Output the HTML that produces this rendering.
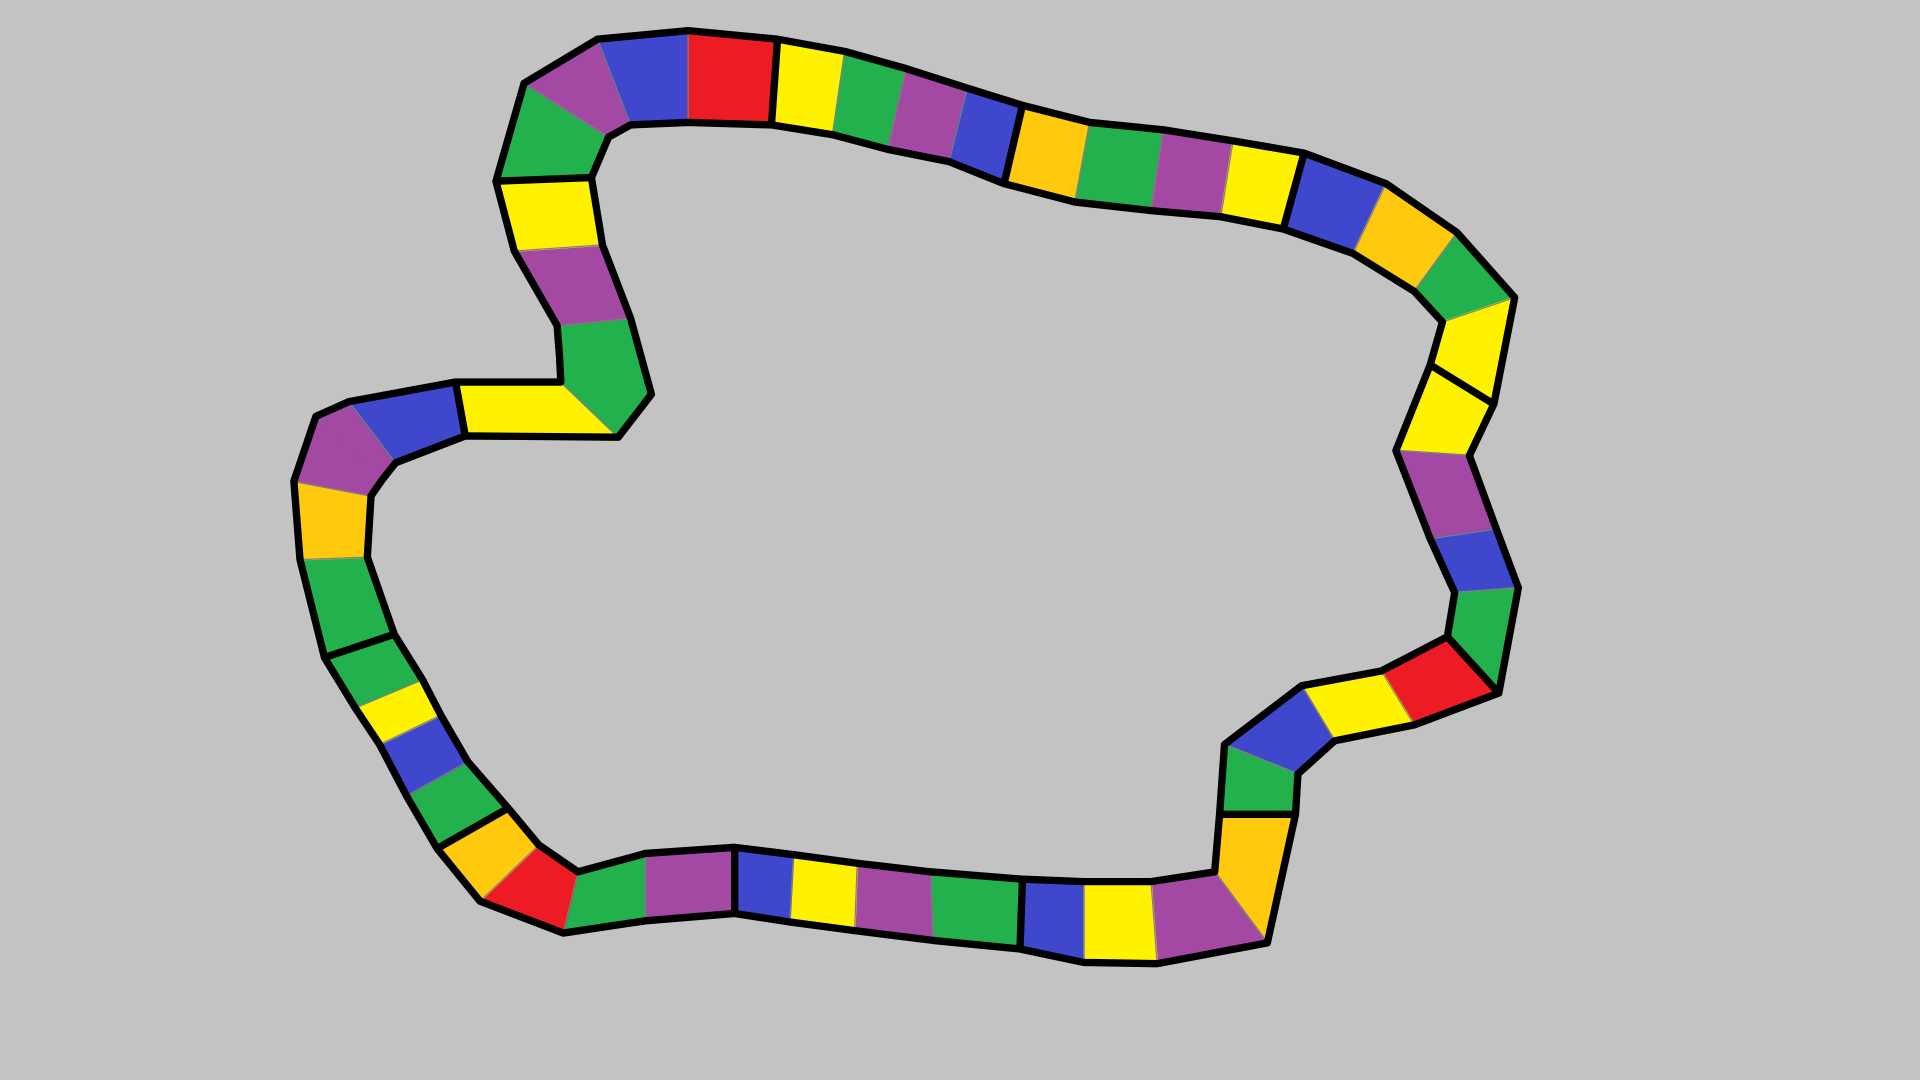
<!DOCTYPE html>
<html><head><meta charset="utf-8"><style>
html,body{margin:0;padding:0;background:#c3c3c3;overflow:hidden}
svg{display:block}
</style></head><body>
<svg id="board" width="1920" height="1080" viewBox="0 0 1568 882" preserveAspectRatio="none" xmlns="http://www.w3.org/2000/svg">
<rect width="1568" height="882" fill="#c3c3c3"/>
<g id="spaces"></g><g id="rungs"></g><g id="edges"></g>
</svg>
<script>
// Rungs: [outerX, outerY, innerX, innerY]
const rungs = [
[405,148,483,145],[428,68,497,112],[488,32,515,102],[562,25,562,100],[635,32,630,102],
[690,42,680,110],[740,56,725,122],[790,72,775,132],[835,86,820,150],[890,100,878,165],
[950,106,940,172],[1007,115,997,177],[1065,125,1048,187],[1132,150,1105,207],[1190,190,1155,238],
[1237,243,1178,263],[1220,330,1168,298],[1200,372,1140,368],[1222,432,1168,440],[1240,480,1188,484],
[1224,566,1182,520],[1155,592,1128,548],[1090,605,1063,560],[1060,632,1000,608],[1058,665,996,665],
[1035,770,992,712],[945,787,940,720],[885,786,885,720],[833,775,835,718],[762,768,760,712],
[698,760,700,705],[645,753,648,698],[600,746,600,692],[527,752,527,697],[460,762,472,712],
[392,736,440,690],[357,693,415,660],[332,650,382,622],[310,608,360,584],[290,578,345,555],
[265,537,322,518],[245,457,300,455],[240,393,303,405],[258,340,312,392],[285,328,323,378],
[372,312,380,356],[458,312,505,357],[457,292,532,322],[455,266,515,260],[420,205,492,200]
];
const colors = ["G","P","B","R","Y","G","P","B","O","G","P","Y","B","O","G","Y","Y","P","B","G",
"R","Y","B","G","O","P","Y","B","G","P","Y","B","P","G","R","O","G","B","Y","G",
"G","O","P","P","B","Y","G","G","P","Y"];
const blackRungs = [0,4,8,12,16,20,24,28,32,36,40,45];
const hiddenRungs = [43,47];
const palette = {G:"#22b14c",Y:"#fff200",P:"#a349a4",B:"#3f48cc",R:"#ed1c24",O:"#ffc90e"};
const NS="http://www.w3.org/2000/svg";
const sp=document.getElementById('spaces'), rg=document.getElementById('rungs'), ed=document.getElementById('edges');
const n=rungs.length;
for(let i=0;i<n;i++){
  const a=rungs[i], b=rungs[(i+1)%n];
  const p=document.createElementNS(NS,'polygon');
  p.setAttribute('points',`${a[0]},${a[1]} ${b[0]},${b[1]} ${b[2]},${b[3]} ${a[2]},${a[3]}`);
  p.setAttribute('fill',palette[colors[i]]);
  p.setAttribute('stroke',palette[colors[i]]);
  p.setAttribute('stroke-width','1.5');
  
  
  sp.appendChild(p);
}
for(let i=0;i<n;i++){
  if(hiddenRungs.includes(i)) continue;
  const r=rungs[i];
  const l=document.createElementNS(NS,'line');
  l.setAttribute('x1',r[0]);l.setAttribute('y1',r[1]);l.setAttribute('x2',r[2]);l.setAttribute('y2',r[3]);
  const blk=blackRungs.includes(i);
  l.setAttribute('stroke',blk?'#000':'#7f7f7f');
  l.setAttribute('stroke-width',blk?6:1);
  
  
  rg.appendChild(l);
}
function edge(ix,iy,name){
  const pl=document.createElementNS(NS,'polygon');
  pl.setAttribute('points',rungs.map(r=>r[ix]+','+r[iy]).join(' '));
  pl.setAttribute('fill','none');pl.setAttribute('stroke','#000');pl.setAttribute('stroke-width','6');
  pl.setAttribute('stroke-linejoin','round');
  
  
  ed.appendChild(pl);
}
edge(0,1,'track-outer-border');
edge(2,3,'track-inner-border');
</script>
</body></html>
